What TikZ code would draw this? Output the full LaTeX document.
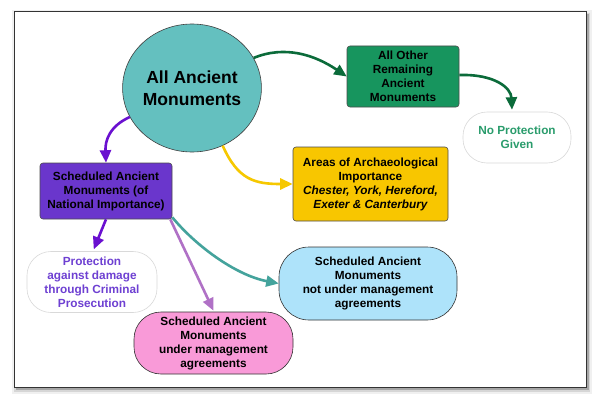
\documentclass[tikz,border=0pt]{standalone}
\usepackage{fontspec}
\setmainfont{Liberation Sans}
\usetikzlibrary{arrows.meta,shapes.geometric,calc}
\definecolor{circfill}{HTML}{64C0BF}
\definecolor{greenbox}{HTML}{17955E}
\definecolor{greenarrow}{HTML}{0B6B3A}
\definecolor{greentext}{HTML}{2A9C6C}
\definecolor{yellowbox}{HTML}{F8C600}
\definecolor{yellowarrow}{HTML}{F6C800}
\definecolor{purplebox}{HTML}{6A36CC}
\definecolor{purplearrow}{HTML}{6A10D0}
\definecolor{purpletext}{HTML}{6E40D2}
\definecolor{lilacarrow}{HTML}{B071C6}
\definecolor{tealarrow}{HTML}{44A39C}
\definecolor{bluefill}{HTML}{AEE3FA}
\definecolor{pinkfill}{HTML}{F99AD8}
\begin{document}
\begin{tikzpicture}[x=1pt,y=-1pt,
  txt/.style={font=\fontsize{11.8}{14}\selectfont\bfseries, align=center, inner sep=0pt},
  sqbox/.style={txt, rectangle, rounded corners=3pt, draw=black!70, line width=0.6pt},
  pill/.style={txt, rectangle, rounded corners=24pt, line width=0.6pt},
  conn/.style={line width=2.6pt, -{Triangle[length=12.5pt,width=11pt]}}]
\useasboundingbox (0,0) rectangle (599,404);
% frame with shadow
\fill[black!6] (12,10) rectangle (592,394);
\fill[black!16] (14,13) rectangle (590,391.5);
\fill[black!35] (16,14) rectangle (588.5,389.5);
\draw[fill=white, draw=black!80, line width=0.8pt] (14,11) rectangle (586,387);

% nodes
\node[ellipse, draw=black!75, line width=0.6pt, fill=circfill, minimum width=138pt, minimum height=128pt, inner sep=0pt,
  font=\fontsize{17.5}{21.5}\selectfont\bfseries, align=center] (c) at (192,88) {All Ancient\\Monuments};
\node[sqbox, fill=greenbox, minimum width=112pt, minimum height=61pt] (g) at (403,76.5) {All Other\\Remaining\\Ancient\\Monuments};
\node[pill, draw=black!15, fill=white, text=greentext, minimum width=108pt, minimum height=51pt] (np) at (517,137.5) {No Protection\\Given};
\node[sqbox, fill=yellowbox, minimum width=155pt, minimum height=74pt] (y) at (370.5,184) {Areas of Archaeological\\Importance\\\itshape Chester, York, Hereford,\\\itshape Exeter \& Canterbury};
\node[sqbox, fill=purplebox, minimum width=132pt, minimum height=56pt] (p) at (106,191) {Scheduled Ancient\\Monuments (of\\National Importance)};
\node[pill, draw=black!15, fill=white, text=purpletext, minimum width=130pt, minimum height=61pt] (pr) at (92,282) {Protection\\against damage\\through Criminal\\Prosecution};
\node[pill, draw=black!80, fill=bluefill, rounded corners=30pt, minimum width=178pt, minimum height=73pt] (b) at (368,283.5) {Scheduled Ancient\\Monuments\\not under management\\agreements};
\node[pill, draw=black!80, fill=pinkfill, rounded corners=27pt, minimum width=159pt, minimum height=62pt] (pk) at (213.5,343) {Scheduled Ancient\\Monuments\\under management\\agreements};

% connectors
\draw[conn, greenarrow] (c.26) .. controls (285,45) and (315,55) .. (g.west);
\draw[conn, greenarrow] ($(g.east)+(0,-1.5)$) .. controls (495,74) and (511,88) .. ($(np.north)+(-5,-2)$);
\draw[conn, purplearrow] (c.205) .. controls (110,126) and (105,140) .. (p.north);
\draw[conn, yellowarrow] (c.298) .. controls (238,180) and (255,184) .. (y.west);
\draw[conn, purplearrow, shorten >=2pt] ($(p.south)+(0,0)$) -- ($(pr.north)+(1,0)$);
\draw[conn, lilacarrow] ($(p.south east)+(-2,0)$) -- ($(pk.north)+(0,-1)$);
\draw[conn, tealarrow] ($(p.south east)+(0,-2)$) .. controls (195,245) and (235,275) .. (b.west);
\end{tikzpicture}
\end{document}
